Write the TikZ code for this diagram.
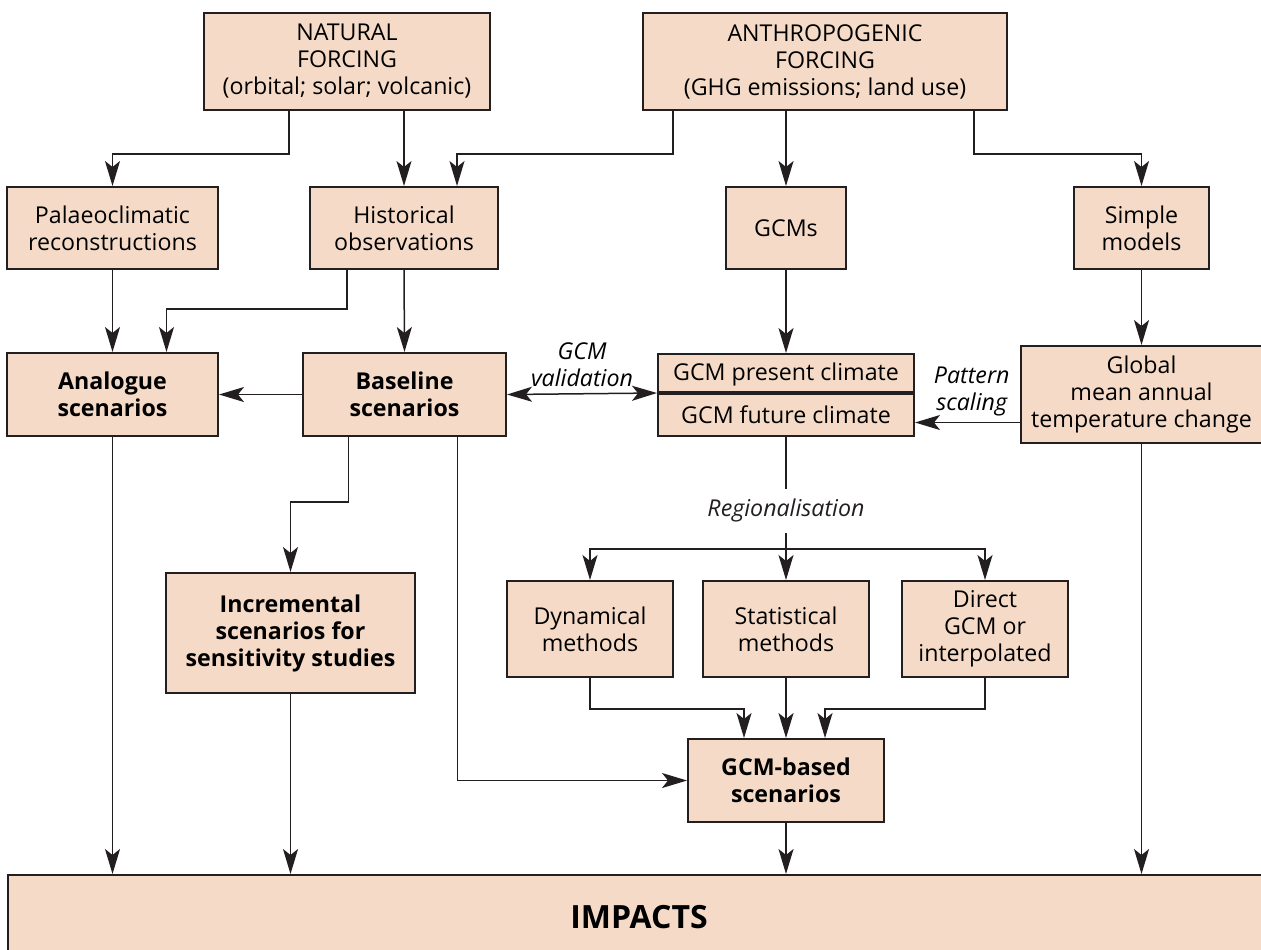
\documentclass[tikz,border=0pt]{standalone}
\usepackage{fontspec}
\setmainfont{Open Sans}
\usepackage{tikz}
\usetikzlibrary{positioning,arrows.meta,calc}
\definecolor{boxc}{HTML}{F5DBC7}
\definecolor{linec}{HTML}{231F20}
\tikzset{
  box/.style={draw=linec, fill=boxc, line width=1pt, align=center, inner sep=0pt,
              font=\fontsize{11.6}{13.5}\selectfont},
  bbox/.style={box, font=\fontsize{11.6}{13.5}\selectfont\bfseries},
  arr/.style={-{Stealth[length=12.5pt, width=7.5pt, inset=3pt]}, draw=linec, line width=0.75pt},
  darr/.style={{Stealth[length=12.5pt, width=7.5pt, inset=3pt]}-{Stealth[length=12.5pt, width=7.5pt, inset=3pt]}, draw=linec, line width=0.75pt},
  lbl/.style={font=\fontsize{11.6}{13.5}\selectfont\itshape, align=center, inner sep=2pt},
}

\begin{document}
\begin{tikzpicture}[x=0.5pt, y=-0.5pt]
  \useasboundingbox (0,0) rectangle (1261,949);
  \clip (0,0) rectangle (1261,949);

  % forcings
  \node[box, minimum width=143pt, minimum height=48.5pt] (nat) at (347,61.5) {NATURAL\\FORCING\\(orbital; solar; volcanic)};
  \node[box, minimum width=182pt, minimum height=48.5pt] (anth) at (825,61.5) {ANTHROPOGENIC\\FORCING\\(GHG emissions; land use)};

  % second row
  \node[box, minimum width=105.5pt, minimum height=41pt] (palaeo) at (112.5,228) {Palaeoclimatic\\reconstructions};
  \node[box, minimum width=94pt, minimum height=41pt] (hist) at (404,228) {Historical\\observations};
  \node[box, minimum width=60pt, minimum height=41pt] (gcms) at (786,228) {GCMs};
  \node[box, minimum width=67.5pt, minimum height=41pt] (simple) at (1141.5,228) {Simple\\models};

  % scenarios
  \node[bbox, minimum width=105.5pt, minimum height=41.5pt] (analogue) at (112.5,394.5) {Analogue\\scenarios};
  \node[bbox, minimum width=101.5pt, minimum height=41.5pt] (base) at (404.5,394.5) {Baseline\\scenarios};
  \node[box, minimum width=128pt, minimum height=20pt] (gcmpres) at (786,374) {GCM present climate};
  \node[box, minimum width=128pt, minimum height=21pt] (gcmfut) at (786,415) {GCM future climate};
  \draw[linec, line width=1.6pt] (gcmfut.north west) -- (gcmfut.north east);
  \node[box, minimum width=120.5pt, minimum height=48.5pt] (global) at (1141.5,394.5) {Global\\mean annual\\temperature change};
  \node[bbox, minimum width=124.5pt, minimum height=60pt] (incr) at (290.5,633) {Incremental\\scenarios for\\sensitivity studies};

  % regionalisation methods
  \node[box, minimum width=83pt, minimum height=48pt] (dyn) at (590,629) {Dynamical\\methods};
  \node[box, minimum width=83pt, minimum height=48pt] (stat) at (786,629) {Statistical\\methods};
  \node[box, minimum width=83pt, minimum height=48pt] (direct) at (985,629) {Direct\\GCM or\\interpolated};
  \node[bbox, minimum width=98pt, minimum height=41.5pt] (gcmb) at (786,780.5) {GCM-based\\scenarios};

  \node[bbox, font=\fontsize{16}{19}\selectfont\bfseries, minimum width=631pt, minimum height=42.5pt] (impacts) at (639,917.5) {IMPACTS};

  % from the forcings
  \draw[arr] ($(nat.south)+(-58,0)$) -- ++(0,43) -| (palaeo.north);
  \draw[arr] (hist.north |- nat.south) -- (hist.north);
  \draw[arr] ($(anth.south)+(-152,0)$) -- ++(0,43) -| ($(hist.north)+(53,0)$);
  \draw[arr] (gcms.north |- anth.south) -- (gcms.north);
  \draw[arr] ($(anth.south)+(149,0)$) -- ++(0,43) -| (simple.north);

  % to the scenarios
  \draw[arr] (palaeo.south) -- (analogue.north);
  \draw[arr] ($(hist.south)+(-57,0)$) -- ++(0,39) -| ($(analogue.north)+(54,0)$);
  \draw[arr] (hist.south) -- (base.north);
  \draw[arr] (base.west) -- (analogue.east);
  \draw[darr] (base.east) -- (gcmfut.north west) node[lbl, midway, above, yshift=1pt] {GCM\\validation};
  \draw[arr] (gcms.south) -- (gcmpres.north);
  \draw[arr] (simple.south) -- (global.north);
  \draw[arr] ($(global.west)+(0,28)$) coordinate (ps) -- (ps -| gcmfut.east) node[lbl, pos=0.46, above, yshift=1pt] {Pattern\\scaling};

  % regionalisation
  \draw[linec, line width=0.75pt] (gcmfut.south) -- ++(0,112) coordinate (reg)
    node[lbl, pos=0.66, fill=white, inner ysep=5pt] {Regionalisation};
  \draw[arr] (reg) -| (dyn.north);
  \draw[arr] (reg) -- (stat.north);
  \draw[arr] (reg) -| (direct.north);
  \draw[arr] (dyn.south) -- ++(0,31) -| ($(gcmb.north)+(-42,0)$);
  \draw[arr] (stat.south) -- (gcmb.north);
  \draw[arr] (direct.south) -- ++(0,31) -| ($(gcmb.north)+(39,0)$);
  \draw[arr] ($(base.south)+(53,0)$) |- (gcmb.west);
  \draw[arr] ($(base.south)+(-56,0)$) -- ++(0,65) -| (incr.north);

  % impacts
  \draw[arr] (analogue.south) -- (analogue.south |- impacts.north);
  \draw[arr] (incr.south) -- (incr.south |- impacts.north);
  \draw[arr] (gcmb.south) -- (gcmb.south |- impacts.north);
  \draw[arr] (global.south) -- (global.south |- impacts.north);
\end{tikzpicture}
\end{document}
